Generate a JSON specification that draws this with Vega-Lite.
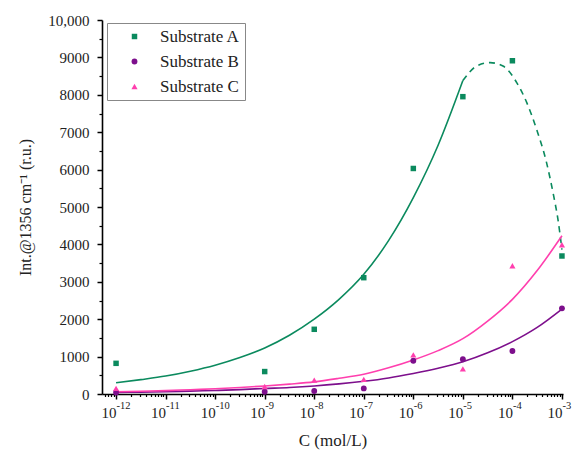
{
  "$schema": "https://vega.github.io/schema/vega-lite/v6.json",
  "width": 461,
  "height": 374,
  "autosize": {"type": "none"},
  "padding": {"left": 102, "top": 20, "right": 10, "bottom": 58},
  "background": "white",
  "config": {
    "font": "Liberation Serif",
    "view": {"stroke": null},
    "axis": {"domainColor": "black", "tickColor": "black", "labelColor": "#222", "titleColor": "#222", "grid": false, "titleFontWeight": "normal"}
  },
  "datasets": {
    "curves": [
      {"s": "A", "x": 1e-12, "y": 300}, {"s": "A", "x": 3.162e-12, "y": 385}, {"s": "A", "x": 1e-11, "y": 480}, {"s": "A", "x": 3.162e-11, "y": 610},
      {"s": "A", "x": 1e-10, "y": 770}, {"s": "A", "x": 3.162e-10, "y": 975}, {"s": "A", "x": 1e-9, "y": 1230}, {"s": "A", "x": 3.162e-9, "y": 1570},
      {"s": "A", "x": 1e-8, "y": 2000}, {"s": "A", "x": 3.162e-8, "y": 2530}, {"s": "A", "x": 1e-7, "y": 3200}, {"s": "A", "x": 3.162e-7, "y": 4100},
      {"s": "A", "x": 1e-6, "y": 5250}, {"s": "A", "x": 3.162e-6, "y": 6650}, {"s": "A", "x": 1e-5, "y": 8380},
      {"s": "A2", "x": 1e-5, "y": 8380}, {"s": "A2", "x": 1.905e-5, "y": 8770}, {"s": "A2", "x": 3.548e-5, "y": 8860}, {"s": "A2", "x": 6.457e-5, "y": 8770},
      {"s": "A2", "x": 1.23e-4, "y": 8320}, {"s": "A2", "x": 1.95e-4, "y": 7790}, {"s": "A2", "x": 3.09e-4, "y": 7070}, {"s": "A2", "x": 4.9e-4, "y": 6180},
      {"s": "A2", "x": 6.61e-4, "y": 5380}, {"s": "A2", "x": 8.32e-4, "y": 4660}, {"s": "A2", "x": 1e-3, "y": 3860},
      {"s": "B", "x": 1e-12, "y": 40}, {"s": "B", "x": 3.162e-12, "y": 50}, {"s": "B", "x": 1e-11, "y": 60}, {"s": "B", "x": 3.162e-11, "y": 77},
      {"s": "B", "x": 1e-10, "y": 95}, {"s": "B", "x": 3.162e-10, "y": 118}, {"s": "B", "x": 1e-9, "y": 148}, {"s": "B", "x": 3.162e-9, "y": 175},
      {"s": "B", "x": 1e-8, "y": 215}, {"s": "B", "x": 3.162e-8, "y": 270}, {"s": "B", "x": 1e-7, "y": 340}, {"s": "B", "x": 3.162e-7, "y": 430},
      {"s": "B", "x": 1e-6, "y": 550}, {"s": "B", "x": 3.162e-6, "y": 690}, {"s": "B", "x": 1e-5, "y": 860}, {"s": "B", "x": 3.162e-5, "y": 1100},
      {"s": "B", "x": 1e-4, "y": 1400}, {"s": "B", "x": 3.162e-4, "y": 1780}, {"s": "B", "x": 1e-3, "y": 2270},
      {"s": "C", "x": 1e-12, "y": 60}, {"s": "C", "x": 3.162e-12, "y": 75}, {"s": "C", "x": 1e-11, "y": 90}, {"s": "C", "x": 3.162e-11, "y": 115},
      {"s": "C", "x": 1e-10, "y": 140}, {"s": "C", "x": 3.162e-10, "y": 175}, {"s": "C", "x": 1e-9, "y": 215}, {"s": "C", "x": 3.162e-9, "y": 265},
      {"s": "C", "x": 1e-8, "y": 325}, {"s": "C", "x": 3.162e-8, "y": 420}, {"s": "C", "x": 1e-7, "y": 530}, {"s": "C", "x": 3.162e-7, "y": 700},
      {"s": "C", "x": 1e-6, "y": 910}, {"s": "C", "x": 3.162e-6, "y": 1160}, {"s": "C", "x": 1e-5, "y": 1480}, {"s": "C", "x": 3.162e-5, "y": 1950},
      {"s": "C", "x": 1e-4, "y": 2530}, {"s": "C", "x": 3.162e-4, "y": 3300}, {"s": "C", "x": 1e-3, "y": 4230}
    ],
    "points": [
      {"series": "Substrate A", "x": 1e-12, "y": 820}, {"series": "Substrate A", "x": 1e-9, "y": 600}, {"series": "Substrate A", "x": 1e-8, "y": 1730},
      {"series": "Substrate A", "x": 1e-7, "y": 3110}, {"series": "Substrate A", "x": 1e-6, "y": 6030}, {"series": "Substrate A", "x": 1e-5, "y": 7950},
      {"series": "Substrate A", "x": 1e-4, "y": 8910}, {"series": "Substrate A", "x": 1e-3, "y": 3690},
      {"series": "Substrate B", "x": 1e-12, "y": 40}, {"series": "Substrate B", "x": 1e-9, "y": 60}, {"series": "Substrate B", "x": 1e-8, "y": 80},
      {"series": "Substrate B", "x": 1e-7, "y": 150}, {"series": "Substrate B", "x": 1e-6, "y": 890}, {"series": "Substrate B", "x": 1e-5, "y": 930},
      {"series": "Substrate B", "x": 1e-4, "y": 1150}, {"series": "Substrate B", "x": 1e-3, "y": 2290},
      {"series": "Substrate C", "x": 1e-12, "y": 150}, {"series": "Substrate C", "x": 1e-9, "y": 200}, {"series": "Substrate C", "x": 1e-8, "y": 370},
      {"series": "Substrate C", "x": 1e-7, "y": 390}, {"series": "Substrate C", "x": 1e-6, "y": 1045}, {"series": "Substrate C", "x": 1e-5, "y": 670},
      {"series": "Substrate C", "x": 1e-4, "y": 3430}, {"series": "Substrate C", "x": 1e-3, "y": 3990}
    ]
  },
  "resolve": {"axis": {"x": "independent", "y": "independent"}, "scale": {"x": "shared", "y": "shared"}},
  "layer": [
    {
      "data": {"name": "curves"},
      "transform": [{"filter": "datum.s == 'A'"}],
      "mark": {"type": "line", "color": "#0b8a5e", "strokeWidth": 1.6, "interpolate": "monotone"},
      "encoding": {
        "x": {"field": "x", "type": "quantitative",
          "scale": {"type": "log", "domain": [5.2e-13, 1.05e-3], "nice": false},
          "axis": {"orient": "bottom", "values": [1e-12, 1e-11, 1e-10, 1e-9, 1e-8, 1e-7, 1e-6, 1e-5, 1e-4, 1e-3],
            "labelExpr": "'10'", "labelAlign": "right", "labelDx": 2,
            "labelOverlap": false, "labelFlush": false,
            "title": "C (mol/L)", "titleFontSize": 17, "titlePadding": 12, "labelFontSize": 15, "labelPadding": 6,
            "tickSize": 5, "tickWidth": 1.5, "domainWidth": 1.6}},
        "y": {"field": "y", "type": "quantitative",
          "scale": {"domain": [0, 10000], "nice": false, "zero": true},
          "axis": {"orient": "left", "values": [0, 1000, 2000, 3000, 4000, 5000, 6000, 7000, 8000, 9000, 10000],
            "labelExpr": "datum.value == 10000 ? '10,000' : format(datum.value, 'd')",
            "title": "Int.@1356 cm⁻¹ (r.u.)", "titleFontSize": 16, "titlePadding": 14, "labelFontSize": 15, "labelPadding": 8,
            "tickSize": 5, "tickWidth": 1.5, "domainWidth": 1.6}}
      }
    },
    {
      "data": {"name": "curves"},
      "transform": [{"filter": "datum.s == 'A2'"}],
      "mark": {"type": "line", "color": "#0b8a5e", "strokeWidth": 1.6, "interpolate": "monotone", "strokeDash": [6, 5]},
      "encoding": {
        "x": {"field": "x", "type": "quantitative",
          "axis": {"orient": "bottom", "labels": false, "title": null, "domain": false, "tickSize": 2.5, "tickWidth": 1.2,
            "values": [6e-13, 7e-13, 8e-13, 9e-13,
              2e-12, 3e-12, 4e-12, 5e-12, 6e-12, 7e-12, 8e-12, 9e-12,
              2e-11, 3e-11, 4e-11, 5e-11, 6e-11, 7e-11, 8e-11, 9e-11,
              2e-10, 3e-10, 4e-10, 5e-10, 6e-10, 7e-10, 8e-10, 9e-10,
              2e-9, 3e-9, 4e-9, 5e-9, 6e-9, 7e-9, 8e-9, 9e-9,
              2e-8, 3e-8, 4e-8, 5e-8, 6e-8, 7e-8, 8e-8, 9e-8,
              2e-7, 3e-7, 4e-7, 5e-7, 6e-7, 7e-7, 8e-7, 9e-7,
              2e-6, 3e-6, 4e-6, 5e-6, 6e-6, 7e-6, 8e-6, 9e-6,
              2e-5, 3e-5, 4e-5, 5e-5, 6e-5, 7e-5, 8e-5, 9e-5,
              2e-4, 3e-4, 4e-4, 5e-4, 6e-4, 7e-4, 8e-4, 9e-4]}},
        "y": {"field": "y", "type": "quantitative",
          "axis": {"orient": "left", "labels": false, "title": null, "domain": false, "tickSize": 3, "tickWidth": 1.2,
            "values": [500, 1500, 2500, 3500, 4500, 5500, 6500, 7500, 8500, 9500]}}
      }
    },
    {
      "data": {"name": "curves"},
      "transform": [{"filter": "datum.s == 'B'"}],
      "mark": {"type": "line", "color": "#7d0f8c", "strokeWidth": 1.6, "interpolate": "monotone"},
      "encoding": {
        "x": {"field": "x", "type": "quantitative",
          "axis": {"orient": "bottom", "values": [1e-12, 1e-11, 1e-10, 1e-9, 1e-8, 1e-7, 1e-6, 1e-5, 1e-4, 1e-3],
            "labelExpr": "'-' + format(-round(log(datum.value)/LN10), 'd')", "labelAlign": "left", "labelDx": 2, "labelDy": -3,
            "labelOverlap": false, "labelFlush": false, "labelFontSize": 10.5, "labelPadding": 6,
            "ticks": false, "tickSize": 5, "domain": false, "title": null}},
        "y": {"field": "y", "type": "quantitative", "axis": null}
      }
    },
    {
      "data": {"name": "curves"},
      "transform": [{"filter": "datum.s == 'C'"}],
      "mark": {"type": "line", "color": "#ff3fae", "strokeWidth": 1.6, "interpolate": "monotone"},
      "encoding": {
        "x": {"field": "x", "type": "quantitative", "axis": null},
        "y": {"field": "y", "type": "quantitative", "axis": null}
      }
    },
    {
      "data": {"name": "points"},
      "mark": {"type": "point", "filled": true, "opacity": 1},
      "encoding": {
        "x": {"field": "x", "type": "quantitative", "axis": null},
        "y": {"field": "y", "type": "quantitative", "axis": null},
        "size": {"field": "series", "type": "nominal", "legend": null,
          "scale": {"domain": ["Substrate A", "Substrate B", "Substrate C"], "range": [30, 38, 90]}},
        "color": {"field": "series", "type": "nominal",
          "scale": {"domain": ["Substrate A", "Substrate B", "Substrate C"], "range": ["#0b8a5e", "#7d0f8c", "#ff3fae"]},
          "legend": {"title": null, "orient": "none", "legendX": 5, "legendY": 3, "strokeColor": "#888888", "fillColor": "white",
            "padding": 5, "labelFontSize": 17, "labelColor": "#222", "symbolOffset": 14, "labelOffset": 17, "rowPadding": 7, "symbolSize": 55}},
        "shape": {"field": "series", "type": "nominal",
          "scale": {"domain": ["Substrate A", "Substrate B", "Substrate C"], "range": ["square", "circle", "triangle-up"]},
          "legend": {"title": null, "orient": "none", "legendX": 5, "legendY": 3, "strokeColor": "#888888", "fillColor": "white",
            "padding": 5, "labelFontSize": 17, "labelColor": "#222", "symbolOffset": 14, "labelOffset": 17, "rowPadding": 7, "symbolSize": 55}}
      }
    }
  ]
}
